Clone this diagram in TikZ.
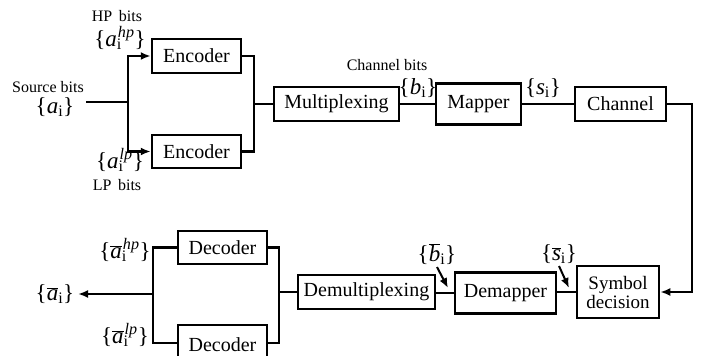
\documentclass[tikz,border=0pt]{standalone}
\usepackage{fontspec}
\setmainfont{Liberation Serif}
\usetikzlibrary{arrows.meta}
\newcommand{\abar}{$\overline{\hbox{\itshape a}}$}
\newcommand{\bbar}{$\overline{\hbox{\itshape b}}$}
\newcommand{\sbar}{$\overline{\hbox{\itshape s}}$}
\newcommand{\subsup}[2]{\rlap{\textsubscript{#1}}\textsuperscript{\kern1pt\textit{#2}}}
\begin{document}
\begin{tikzpicture}[x=1pt,y=-1pt,
  blk/.style={draw,line width=2.5pt,inner sep=0pt,font=\fontsize{20}{22}\selectfont},
  lbl/.style={inner sep=0pt,font=\fontsize{16}{18}\selectfont},
  sym/.style={inner sep=0pt,font=\fontsize{23}{24}\selectfont},
  wire/.style={line width=2.5pt},
  arr/.style={line width=2.5pt,-{Latex[length=10pt,width=8pt]}}]
\clip (0,0) rectangle (707,356);
\fill[white] (0,0) rectangle (707,356);
% top row
\node[blk,minimum width=89pt,minimum height=34pt] (enc1) at (196.5,56) {Encoder};
\node[blk,minimum width=89pt,minimum height=33pt] (enc2) at (196.5,151.5) {Encoder};
\node[blk,minimum width=125pt,minimum height=34pt] (mux) at (336.5,104) {Multiplexing};
\node[blk,minimum width=85pt,minimum height=41pt] (map) at (478.5,104) {Mapper};
\node[blk,minimum width=91pt,minimum height=34pt] (chan) at (620.5,104) {Channel};
% bottom row
\node[blk,minimum width=82pt,minimum height=52pt,align=center,font=\fontsize{19}{19}\selectfont] (symd) at (618,292) {Symbol\\decision};
\node[blk,minimum width=101pt,minimum height=41pt] (demap) at (505.5,293) {Demapper};
\node[blk,minimum width=137pt,minimum height=34pt] (demux) at (366.5,292) {Demultiplexing};
\node[blk,minimum width=89pt,minimum height=33pt] (dec1) at (222.5,247.5) {Decoder};
\node[blk,minimum width=89pt,minimum height=40pt] (dec2) at (222.5,345) {Decoder};
% coordinates
\coordinate (src) at (86,102);
\coordinate (split) at (128,102);
\coordinate (join) at (254,104);
\coordinate (rt) at (692,104);
\coordinate (dsplit) at (153,294);
\coordinate (djoin) at (279,292);
\coordinate (out) at (78,294);
% top wires
\draw[wire] (src) -- (split);
\draw[arr] (split) |- (enc1.west);
\draw[arr] (split) |- (enc2.west);
\draw[wire] (enc1.east) -| (join);
\draw[wire] (enc2.east) -| (join);
\draw[wire] (join) -- (mux.west);
\draw[wire] (mux.east) -- (map.west);
\draw[wire] (map.east) -- (chan.west);
\draw[arr] (chan.east) -- (rt) |- (symd.east);
% bottom wires
\draw[wire] (symd.west) -- (symd.west -| demap.east);
\draw[wire] (demap.west) -- (demap.west -| demux.east);
\draw[wire] (demux.west) -- (djoin);
\draw[wire] (dec1.east) -| (djoin);
\draw[wire] (dec2.east |- 343,343) -| (djoin);
\draw[wire] (dec1.west) -| (dsplit);
\draw[wire] (dec2.west |- 343,343) -| (dsplit);
\draw[arr] (dsplit) -- (out);
% labels
\node[lbl] (srcl) at (48,87) {Source bits};
\node[sym] (srca) at (55,107) {\{\textit{a}\textsubscript{i}\}};
\node[lbl] (hpl) at (117,16) {HP\, bits};
\node[sym] (hpa) at (120,38) {\{\textit{a}\subsup{i}{hp}\}};
\node[sym] (lpa) at (120,160) {\{\textit{a}\subsup{i}{lp}\}};
\node[lbl] (lpl) at (117,185) {LP\, bits};
\node[lbl] (chl) at (387,65) {Channel bits};
\node[sym] (bl) at (418,88) {\{\textit{b}\textsubscript{i}\}};
\node[sym] (sl) at (543,88) {\{\textit{s}\textsubscript{i}\}};
\node[sym] (ob) at (55,294) {\{\abar\textsubscript{i}\}};
\node[sym] (oh) at (125,250) {\{\abar\subsup{i}{hp}\}};
\node[sym] (ol) at (125,335) {\{\abar\subsup{i}{lp}\}};
\node[sym] (bb) at (437,254) {\{\bbar\textsubscript{i}\}};
\node[sym] (sb) at (559,254) {\{\sbar\textsubscript{i}\}};
\coordinate (bbt) at (448,288);
\coordinate (sbt) at (569,288);
\draw[arr,line width=2pt] (bb.south) ++(0,2) -- (bbt);
\draw[arr,line width=2pt] (sb.south) ++(0,2) -- (sbt);
\end{tikzpicture}
\end{document}
